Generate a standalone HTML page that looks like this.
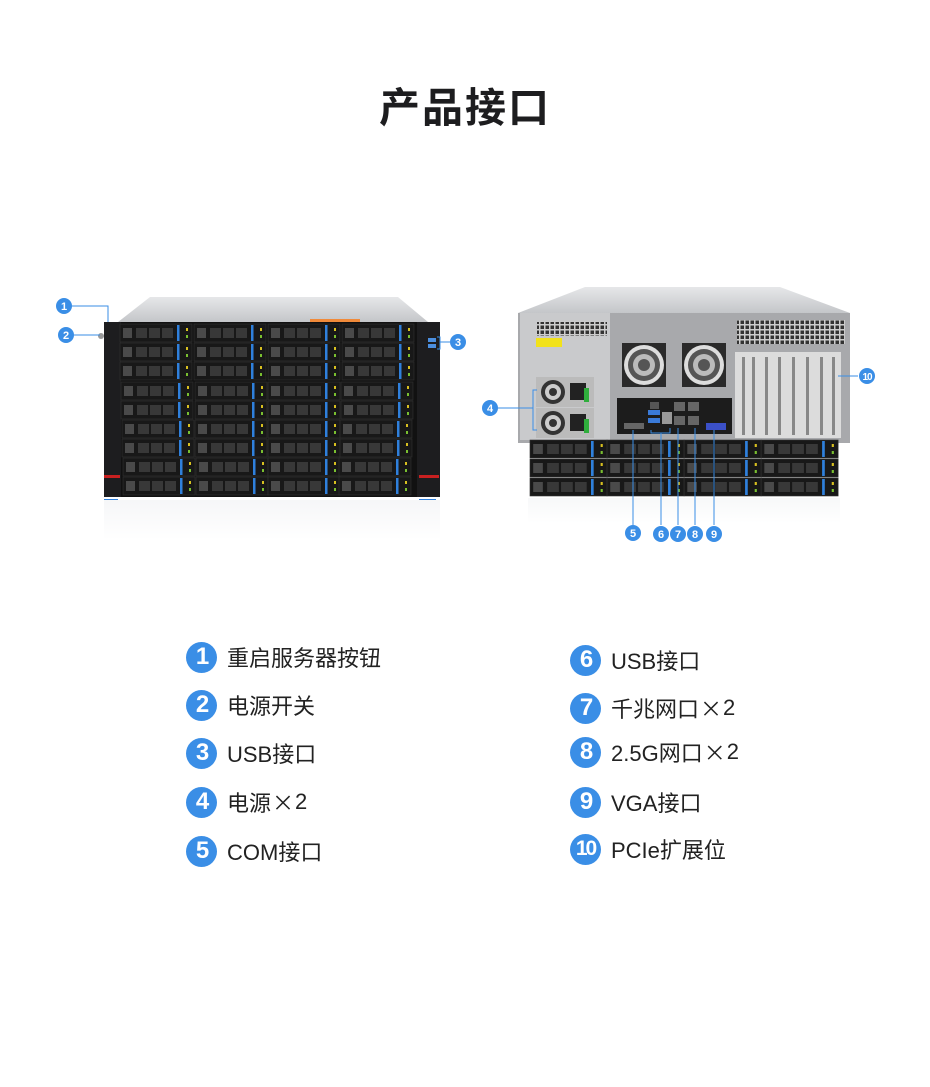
<!DOCTYPE html>
<html><head><meta charset="utf-8"><style>
html,body{margin:0;padding:0;background:#fff}
body{width:930px;height:1087px;position:relative;overflow:hidden;font-family:"Liberation Sans","Noto Sans CJK SC",sans-serif}
.t{position:absolute;left:0;width:930px;top:74px;text-align:center;font-size:41px;font-weight:bold;color:#1d1d1f;letter-spacing:2px}
.li{position:absolute;height:32px;display:flex;align-items:center;font-size:22px;color:#222}
.c{width:31px;height:31px;border-radius:50%;background:#3a8ee6;color:#fff;font-size:24px;font-weight:bold;display:flex;align-items:center;justify-content:center;margin-right:10px;letter-spacing:-2px}
.x{font-family:"Noto Sans CJK SC",sans-serif;margin:0 1px}
</style></head><body>
<div class="t">产品接口</div>
<svg width="930" height="1087" style="position:absolute;left:0;top:0">
<defs>
<g id="d">
<rect x="0" y="0" width="72" height="18" fill="#181818" stroke="#333" stroke-width="0.6"/>
<rect x="3" y="4" width="9" height="10" fill="#4a4a4a"/>
<rect x="16" y="4" width="11" height="10" fill="#383838"/>
<rect x="29" y="4" width="11" height="10" fill="#383838"/>
<rect x="42" y="4" width="11" height="10" fill="#383838"/>
<rect x="57" y="1" width="2.5" height="16" fill="#2f80dc"/>
<rect x="66" y="4" width="2" height="3" fill="#d8c020"/>
<rect x="66" y="11" width="2" height="3" fill="#7ac030"/>
</g>
<linearGradient id="lid" x1="0" y1="0" x2="0" y2="1"><stop offset="0" stop-color="#e6e7e9"/><stop offset="1" stop-color="#c4c6c9"/></linearGradient>
<linearGradient id="fade" x1="0" y1="0" x2="0" y2="1"><stop offset="0" stop-color="#fff" stop-opacity="0.6"/><stop offset="1" stop-color="#fff" stop-opacity="1"/></linearGradient>
<pattern id="vent" width="5" height="5" patternUnits="userSpaceOnUse"><rect width="5" height="5" fill="#ccc"/><rect x="0.5" y="0.5" width="3.5" height="3.5" fill="#333"/></pattern>
</defs>

<!-- FRONT SERVER -->
<polygon points="118,322 150,297 398,297 428,322" fill="url(#lid)"/>
<rect x="310" y="319" width="50" height="4" fill="#f08a3a"/>
<rect x="104" y="322" width="336" height="175" fill="#111"/>
<rect x="104" y="322" width="17" height="175" fill="#1d1d1f"/>
<rect x="417" y="322" width="23" height="175" fill="#1d1d1f"/>
<rect x="104" y="475" width="16" height="3" fill="#c82020"/>
<rect x="419" y="475" width="20" height="3" fill="#c82020"/>
<rect x="104" y="499" width="14" height="3" fill="#2f80dc"/>
<rect x="419" y="499" width="17" height="3" fill="#2f80dc"/>
<circle cx="101" cy="336" r="3" fill="#999"/>
<rect x="428" y="338" width="8" height="4" fill="#4b8fe0"/><rect x="428" y="344" width="8" height="4" fill="#4b8fe0"/>
<g>
<use href="#d" x="120" y="324"/><use href="#d" x="194" y="324"/><use href="#d" x="268" y="324"/><use href="#d" x="342" y="324"/>
<use href="#d" x="120" y="343"/><use href="#d" x="194" y="343"/><use href="#d" x="268" y="343"/><use href="#d" x="342" y="343"/>
<use href="#d" x="120" y="362"/><use href="#d" x="194" y="362"/><use href="#d" x="268" y="362"/><use href="#d" x="342" y="362"/>
<use href="#d" x="121" y="382"/><use href="#d" x="195" y="382"/><use href="#d" x="268" y="382"/><use href="#d" x="341" y="382"/>
<use href="#d" x="121" y="401"/><use href="#d" x="195" y="401"/><use href="#d" x="268" y="401"/><use href="#d" x="341" y="401"/>
<use href="#d" x="122" y="420"/><use href="#d" x="195" y="420"/><use href="#d" x="268" y="420"/><use href="#d" x="340" y="420"/>
<use href="#d" x="122" y="439"/><use href="#d" x="195" y="439"/><use href="#d" x="268" y="439"/><use href="#d" x="340" y="439"/>
<use href="#d" x="123" y="458"/><use href="#d" x="196" y="458"/><use href="#d" x="268" y="458"/><use href="#d" x="339" y="458"/>
<use href="#d" x="123" y="477"/><use href="#d" x="196" y="477"/><use href="#d" x="268" y="477"/><use href="#d" x="339" y="477"/>
</g>
<rect x="104" y="500" width="336" height="40" fill="#e8eaee"/>
<rect x="104" y="500" width="336" height="40" fill="url(#fade)"/>

<!-- BACK SERVER -->
<polygon points="518,313 585,287 780,287 850,313" fill="url(#lid)"/>
<rect x="518" y="313" width="332" height="130" fill="#a8a9ac"/>
<rect x="520" y="313" width="90" height="127" fill="#c9cacc"/>
<rect x="537" y="322" width="70" height="14" fill="url(#vent)"/>
<rect x="536" y="338" width="26" height="9" fill="#f2e21a"/>
<rect x="536" y="377" width="58" height="30" fill="#bbb"/><rect x="536" y="408" width="58" height="30" fill="#bbb"/>
<circle cx="553" cy="392" r="12" fill="#333"/><circle cx="553" cy="392" r="8" fill="#ccc"/><circle cx="553" cy="392" r="4" fill="#333"/>
<circle cx="553" cy="423" r="12" fill="#333"/><circle cx="553" cy="423" r="8" fill="#ccc"/><circle cx="553" cy="423" r="4" fill="#333"/>
<rect x="570" y="383" width="16" height="17" fill="#222"/><rect x="570" y="414" width="16" height="17" fill="#222"/>
<rect x="584" y="388" width="5" height="14" fill="#2fae3c"/><rect x="584" y="419" width="5" height="14" fill="#2fae3c"/>
<rect x="622" y="343" width="44" height="44" fill="#2a2a2a"/><circle cx="644" cy="365" r="20" fill="#ddd"/><circle cx="644" cy="365" r="16" fill="#555"/><circle cx="644" cy="365" r="11" fill="#bbb"/><circle cx="644" cy="365" r="6" fill="#555"/>
<rect x="682" y="343" width="44" height="44" fill="#2a2a2a"/><circle cx="704" cy="365" r="20" fill="#ddd"/><circle cx="704" cy="365" r="16" fill="#555"/><circle cx="704" cy="365" r="11" fill="#bbb"/><circle cx="704" cy="365" r="6" fill="#555"/>
<rect x="737" y="320" width="108" height="24" fill="url(#vent)"/>
<rect x="735" y="352" width="106" height="86" fill="#dcdcdc"/>
<g fill="#888"><rect x="742" y="357" width="3" height="78"/><rect x="752" y="357" width="3" height="78"/><rect x="765" y="357" width="3" height="78"/><rect x="778" y="357" width="3" height="78"/><rect x="792" y="357" width="3" height="78"/><rect x="806" y="357" width="3" height="78"/><rect x="820" y="357" width="3" height="78"/><rect x="832" y="357" width="3" height="78"/></g>
<rect x="617" y="398" width="115" height="36" fill="#1c1c1c"/>
<rect x="624" y="423" width="20" height="6" fill="#666"/>
<rect x="648" y="410" width="12" height="5" fill="#3a7ad8"/><rect x="648" y="418" width="12" height="5" fill="#3a7ad8"/>
<rect x="662" y="412" width="10" height="12" fill="#999"/>
<rect x="650" y="402" width="9" height="7" fill="#555"/>
<rect x="674" y="402" width="11" height="9" fill="#666"/><rect x="688" y="402" width="11" height="9" fill="#666"/>
<rect x="674" y="416" width="11" height="9" fill="#666"/><rect x="688" y="416" width="11" height="9" fill="#666"/>
<rect x="706" y="423" width="20" height="7" fill="#3b50c8"/>
<g transform="translate(530,440) scale(1.07,1)">
<use href="#d" x="0" y="0"/><use href="#d" x="72" y="0"/><use href="#d" x="144" y="0"/><use href="#d" x="216" y="0"/>
<use href="#d" x="0" y="19"/><use href="#d" x="72" y="19"/><use href="#d" x="144" y="19"/><use href="#d" x="216" y="19"/>
<use href="#d" x="0" y="38"/><use href="#d" x="72" y="38"/><use href="#d" x="144" y="38"/><use href="#d" x="216" y="38"/>
</g>
<rect x="528" y="498" width="312" height="25" fill="#eceef1"/>
<rect x="528" y="498" width="312" height="25" fill="url(#fade)"/>

<!-- CALLOUTS -->
<g stroke="#3a8ee6" stroke-width="1" fill="none">
<polyline points="72,306 108,306 108,322"/>
<line x1="74" y1="335" x2="100" y2="335"/>
<polyline points="450,342 440,342"/><polyline points="437,337 440,337 440,349 437,349"/>
<line x1="498" y1="408" x2="533" y2="408"/><polyline points="537,390 533,390 533,430 537,430"/>
<line x1="633" y1="525" x2="633" y2="430"/>
<line x1="661" y1="525" x2="661" y2="433"/><polyline points="651,430 651,433 670,433 670,428"/>
<line x1="678" y1="525" x2="678" y2="428"/>
<line x1="695" y1="525" x2="695" y2="428"/>
<line x1="714" y1="525" x2="714" y2="430"/>
<line x1="858" y1="376" x2="838" y2="376"/>
</g>
<g fill="#3a8ee6">
<circle cx="64" cy="306" r="8"/><circle cx="66" cy="335" r="8"/><circle cx="458" cy="342" r="8"/>
<circle cx="490" cy="408" r="8"/><circle cx="633" cy="533" r="8"/><circle cx="661" cy="534" r="8"/>
<circle cx="678" cy="534" r="8"/><circle cx="695" cy="534" r="8"/><circle cx="714" cy="534" r="8"/><circle cx="867" cy="376" r="8"/>
</g>
<g fill="#fff" font-size="11" font-weight="bold" text-anchor="middle" font-family="Liberation Sans">
<text x="64" y="310">1</text><text x="66" y="339">2</text><text x="458" y="346">3</text><text x="490" y="412">4</text>
<text x="633" y="537">5</text><text x="661" y="538">6</text><text x="678" y="538">7</text><text x="695" y="538">8</text><text x="714" y="538">9</text>
<text x="867" y="380" font-size="10" letter-spacing="-1">10</text>
</g>
</svg>

<div class="li" style="left:186px;top:641px"><div class="c">1</div>重启服务器按钮</div>
<div class="li" style="left:186px;top:689px"><div class="c">2</div>电源开关</div>
<div class="li" style="left:186px;top:737px"><div class="c">3</div>USB接口</div>
<div class="li" style="left:186px;top:786px"><div class="c">4</div>电源<span class="x">×</span>2</div>
<div class="li" style="left:186px;top:835px"><div class="c">5</div>COM接口</div>
<div class="li" style="left:570px;top:644px"><div class="c">6</div>USB接口</div>
<div class="li" style="left:570px;top:692px"><div class="c">7</div>千兆网口<span class="x">×</span>2</div>
<div class="li" style="left:570px;top:736px"><div class="c">8</div>2.5G网口<span class="x">×</span>2</div>
<div class="li" style="left:570px;top:786px"><div class="c">9</div>VGA接口</div>
<div class="li" style="left:570px;top:833px"><div class="c" style="font-size:21px">10</div>PCIe扩展位</div>
</body></html>
